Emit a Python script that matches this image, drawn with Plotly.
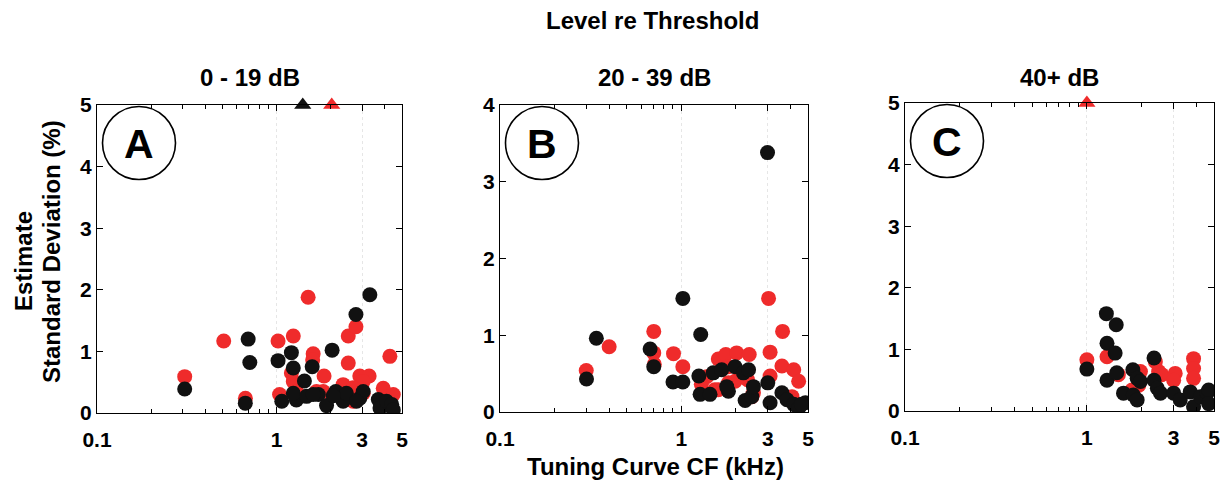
import plotly.graph_objects as go

# ---------------- data ----------------
# Panel A: 0 - 19 dB
a_red_x = [0.308, 0.508, 0.671, 1.02, 1.24, 1.50, 1.60, 1.59, 1.84, 1.21, 1.24, 1.29,
           2.51, 2.77, 2.51, 2.91, 3.28, 3.04, 4.28, 3.93, 4.47, 1.04, 2.07, 2.35,
           2.67, 1.67, 1.82, 2.40, 3.04, 2.67]
a_red_y = [0.59, 1.17, 0.24, 1.17, 1.25, 1.88, 0.96, 0.86, 0.60, 0.65, 0.51, 0.35,
           1.25, 1.40, 0.81, 0.60, 0.60, 0.51, 0.92, 0.40, 0.30, 0.30, 0.30, 0.46,
           0.19, 0.35, 0.35, 0.30, 0.32, 0.41]
a_blk_x = [0.308, 0.695, 0.71, 0.67, 1.02, 1.21, 1.24, 1.43, 1.58, 2.04, 2.77, 3.31,
           1.07, 1.29, 1.24, 1.47, 1.71, 1.90, 2.14, 2.35, 2.45, 2.91, 3.04, 2.79,
           3.69, 3.77, 4.10, 4.38, 4.47, 2.07, 1.60]
a_blk_y = [0.39, 1.20, 0.82, 0.16, 0.85, 0.98, 0.73, 0.52, 0.75, 1.02, 1.60, 1.92,
           0.19, 0.21, 0.32, 0.27, 0.30, 0.12, 0.35, 0.19, 0.32, 0.24, 0.35, 0.19,
           0.22, 0.08, 0.19, 0.14, 0.05, 0.28, 0.30]
a_tri_blk_x = [1.40]
a_tri_red_x = [2.03]

# Panel B: 20 - 39 dB
b_red_x = [0.299, 0.40, 0.705, 0.705, 0.71, 0.906, 1.02, 3.03, 3.62, 3.09, 3.59, 4.17,
           4.44, 3.09, 1.60, 1.76, 2.02, 2.37, 1.82, 1.38, 1.53, 1.29, 1.60, 1.82,
           1.98, 2.32, 2.50, 2.45, 4.08]
b_red_y = [0.54, 0.85, 1.05, 0.77, 0.62, 0.76, 0.59, 1.48, 1.05, 0.78, 0.60, 0.55,
           0.40, 0.47, 0.69, 0.75, 0.77, 0.75, 0.59, 0.46, 0.29, 0.36, 0.29, 0.38,
           0.40, 0.42, 0.25, 0.20, 0.20]
b_blk_x = [0.30, 0.34, 0.673, 0.705, 0.90, 1.02, 1.02, 1.28, 2.99, 1.25, 1.27, 1.44,
           1.50, 1.67, 1.82, 1.98, 2.20, 2.35, 2.25, 2.45, 2.50, 3.00, 3.09, 3.59,
           3.83, 4.17, 4.44, 4.84, 4.60, 1.78]
b_blk_y = [0.43, 0.96, 0.82, 0.59, 0.39, 0.39, 1.48, 1.01, 3.38, 0.47, 0.23, 0.23,
           0.51, 0.55, 0.27, 0.59, 0.51, 0.55, 0.15, 0.20, 0.33, 0.38, 0.12, 0.25,
           0.16, 0.10, 0.05, 0.12, 0.10, 0.33]

# Panel C: 40+ dB
c_red_x = [1.00, 1.29, 1.49, 1.97, 1.77, 1.93, 2.38, 2.48, 2.58, 3.06, 3.00, 3.86,
           3.86, 3.86]
c_red_y = [0.83, 0.88, 0.59, 0.64, 0.34, 0.42, 0.80, 0.64, 0.59, 0.61, 0.50, 0.85,
           0.69, 0.53]
c_blk_x = [1.00, 1.28, 1.45, 1.29, 1.43, 1.29, 1.46, 1.59, 1.80, 1.89, 1.79, 1.89,
           1.97, 2.34, 2.34, 2.44, 2.54, 3.00, 3.26, 3.70, 3.86, 4.21, 4.58, 4.67,
           4.67]
c_blk_y = [0.68, 1.58, 1.40, 1.10, 0.94, 0.50, 0.62, 0.29, 0.26, 0.18, 0.67, 0.53,
           0.48, 0.86, 0.50, 0.37, 0.29, 0.29, 0.18, 0.31, 0.07, 0.23, 0.29, 0.34,
           0.12]
c_tri_red_x = [1.00]

panel_titles = ["0 - 19 dB", "20 - 39 dB", "40+ dB"]
panel_letters = ["A", "B", "C"]
y_max = [5, 4, 5]
x_tick_vals = [0.1, 1, 3, 5]
x_tick_text = ["0.1", "1", "3", "5"]
x_minor_vals = [0.2, 0.3, 0.4, 0.5, 0.6, 0.7, 0.8, 0.9, 2, 4]

RED = "#ef2b2b"
BLK = "#111111"
FONT = "Liberation Sans, Arial, Helvetica, sans-serif"
W, H = 1225, 483

fig = go.Figure()

panels = [
    (a_red_x, a_red_y, a_blk_x, a_blk_y, a_tri_blk_x, a_tri_red_x),
    (b_red_x, b_red_y, b_blk_x, b_blk_y, [], []),
    (c_red_x, c_red_y, c_blk_x, c_blk_y, [], c_tri_red_x),
]

# plot-area geometry in pixels: (left, right, top, bottom)
boxes = [(97, 402, 105, 413), (500, 808, 105, 412), (905, 1214, 103, 411)]

for i, (rx, ry, bx, by, tbx, trx) in enumerate(panels):
    xa = "x" if i == 0 else f"x{i+1}"
    ya = "y" if i == 0 else f"y{i+1}"
    mk = dict(size=15, line=dict(width=0))
    fig.add_trace(go.Scatter(x=rx, y=ry, mode="markers", xaxis=xa, yaxis=ya,
                             marker=dict(color=RED, **mk), showlegend=False))
    fig.add_trace(go.Scatter(x=bx, y=by, mode="markers", xaxis=xa, yaxis=ya,
                             marker=dict(color=BLK, **mk), showlegend=False))
    if tbx:
        fig.add_trace(go.Scatter(x=tbx, y=[y_max[i]] * len(tbx), mode="markers",
                                 xaxis=xa, yaxis=ya, cliponaxis=False,
                                 marker=dict(symbol="triangle-up", size=15, color=BLK),
                                 showlegend=False))
    if trx:
        fig.add_trace(go.Scatter(x=trx, y=[y_max[i]] * len(trx), mode="markers",
                                 xaxis=xa, yaxis=ya, cliponaxis=False,
                                 marker=dict(symbol="triangle-up", size=15, color=RED),
                                 showlegend=False))

    l, r, t, b = boxes[i]
    xdom = [l / W, r / W]
    ydom = [1 - b / H, 1 - t / H]
    xkey = "xaxis" if i == 0 else f"xaxis{i+1}"
    ykey = "yaxis" if i == 0 else f"yaxis{i+1}"
    fig.layout[xkey] = dict(
        domain=xdom, anchor=ya, type="log", range=[-1, 0.69897],
        tickmode="array", tickvals=x_tick_vals, ticktext=x_tick_text,
        ticks="inside", ticklen=6, tickcolor="black", tickwidth=1,
        showline=True, linecolor="black", linewidth=1.3, mirror="allticks",
        showgrid=True, gridcolor="#e6e6e6", griddash="dot", gridwidth=1,
        minor=dict(tickmode="array", tickvals=x_minor_vals, ticks="inside",
                   ticklen=4, tickcolor="black", showgrid=False),
        tickfont=dict(family=FONT, size=21, color="black", weight="bold"),
        ticklabelstandoff=8,
        zeroline=False, fixedrange=True, automargin=False,
    )
    fig.layout[ykey] = dict(
        domain=ydom, anchor=xa, range=[0, y_max[i]],
        tickmode="linear", tick0=0, dtick=1,
        ticks="inside", ticklen=6, tickcolor="black", tickwidth=1,
        showline=True, linecolor="black", linewidth=1.3, mirror="allticks",
        showgrid=False, zeroline=False,
        tickfont=dict(family=FONT, size=21, color="black", weight="bold"),
        fixedrange=True, automargin=False,
    )
    # panel title
    fig.add_annotation(x=(l + r) / 2 / W, y=1 - 78 / H, xref="paper", yref="paper",
                       text=panel_titles[i], showarrow=False, xanchor="center",
                       yanchor="middle",
                       font=dict(family=FONT, size=24, color="black", weight="bold"))
    # panel letter in a circle
    cx, cy, rad = l + 42, t + 38, 36.5
    fig.add_shape(type="circle", xref="paper", yref="paper",
                  x0=(cx - rad) / W, x1=(cx + rad) / W,
                  y0=1 - (cy + rad) / H, y1=1 - (cy - rad) / H,
                  line=dict(color="black", width=1.6), fillcolor="rgba(0,0,0,0)")
    fig.add_annotation(x=cx / W, y=1 - (cy + 1) / H, xref="paper", yref="paper",
                       text=panel_letters[i], showarrow=False, xanchor="center",
                       yanchor="middle",
                       font=dict(family=FONT, size=41, color="black", weight="bold"))

# overall titles
fig.add_annotation(x=652 / W, y=1 - 20 / H, xref="paper", yref="paper",
                   text="Level re Threshold", showarrow=False,
                   xanchor="center", yanchor="middle",
                   font=dict(family=FONT, size=24, color="black", weight="bold"))
fig.add_annotation(x=655 / W, y=1 - 466 / H, xref="paper", yref="paper",
                   text="Tuning Curve CF (kHz)", showarrow=False,
                   xanchor="center", yanchor="middle",
                   font=dict(family=FONT, size=24, color="black", weight="bold"))
fig.add_annotation(x=23 / W, y=1 - 261 / H, xref="paper", yref="paper",
                   text="Estimate", showarrow=False, textangle=-90,
                   xanchor="center", yanchor="middle",
                   font=dict(family=FONT, size=24, color="black", weight="bold"))
fig.add_annotation(x=51 / W, y=1 - 252 / H, xref="paper", yref="paper",
                   text="Standard Deviation (%)", showarrow=False, textangle=-90,
                   xanchor="center", yanchor="middle",
                   font=dict(family=FONT, size=24, color="black", weight="bold"))

fig.update_layout(
    width=W, height=H, autosize=False,
    margin=dict(l=0, r=0, t=0, b=0, pad=0, autoexpand=False),
    paper_bgcolor="white", plot_bgcolor="white",
    font=dict(family=FONT, color="black"),
)

fig.write_html("out.html")
